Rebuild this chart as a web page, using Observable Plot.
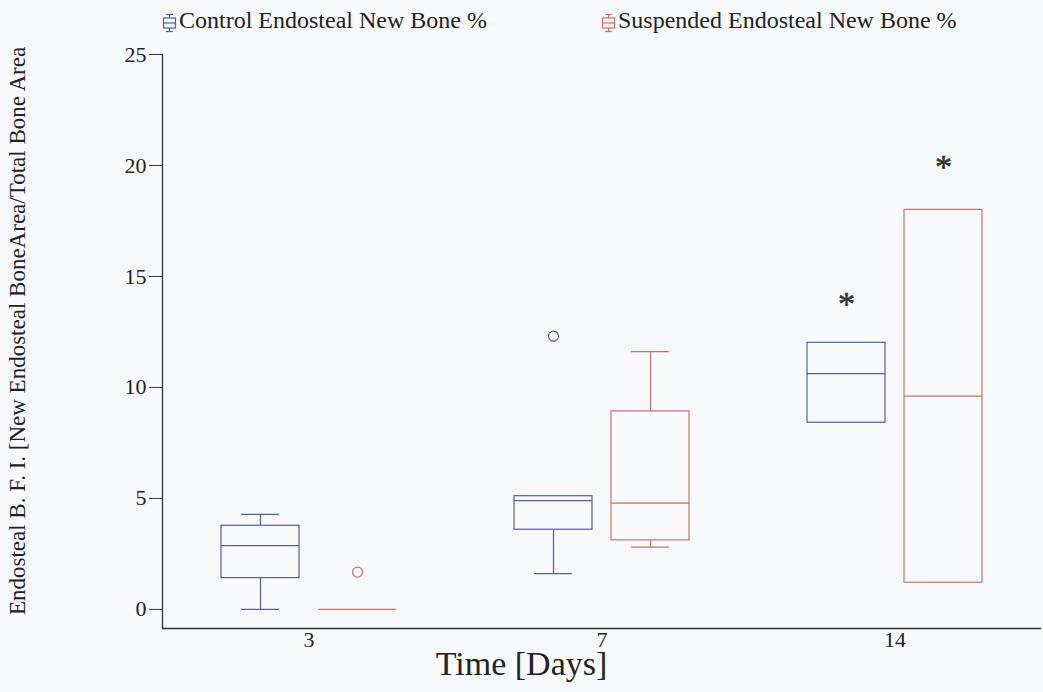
<!DOCTYPE html>
<html>
<head>
<meta charset="utf-8">
<script src="https://cdn.jsdelivr.net/npm/d3@7"></script>
<script src="https://cdn.jsdelivr.net/npm/@observablehq/plot@0.6"></script>
<style>
  body { margin: 0; background: #f8f9fb; font-family: "Liberation Serif", "Times New Roman", serif; }
  #chart { position: relative; width: 1043px; height: 692px; }
  #legend { position: absolute; top: 0; left: 0; width: 1043px; height: 40px; }
  .item { position: absolute; top: 6px; height: 28px; line-height: 28px; font-size: 24px; color: #222; white-space: nowrap; display: flex; align-items: center; }
  .item svg { margin-right: 2px; position: relative; top: 3px; }
  #plot { position: absolute; top: 40px; left: 0; }
  #xtitle { position: absolute; top: 651px; left: 0; width: 1043px; text-align: center; font-size: 34px; line-height: 26px; color: #222; }
  #ytitle { position: absolute; left: 18px; top: 331px; width: 640px; margin-left: -320px; margin-top: -14px; height: 28px; line-height: 28px;
            text-align: center; font-size: 23px; color: #222; white-space: nowrap; transform: rotate(-90deg); }
</style>
</head>
<body>
<div id="chart">
  <div id="legend"></div>
  <div id="plot"></div>
  <div id="ytitle"></div>
  <div id="xtitle"></div>
</div>
<script>
// Sampling days along the x axis
const days = ["3", "7", "14"];
const seriesNames = ["Control Endosteal New Bone %", "Suspended Endosteal New Bone %"];
const seriesColors = ["#4f62a3", "#cf6f68"];

// Box summaries per day: [lower whisker, Q1, median, Q3, upper whisker]
const controlStats = [
  [0.00, 1.41, 2.87, 3.77, 4.28],
  [1.61, 3.59, 4.90, 5.10, 5.10],
  [8.41, 8.41, 10.62, 12.01, 12.01]
];
const suspendedStats = [
  [0.00, 0.00, 0.00, 0.00, 0.00],
  [2.81, 3.11, 4.79, 8.92, 11.61],
  [1.20, 1.20, 9.61, 18.00, 18.00]
];

// Outlying observations per day
const controlOutliers = [[], [12.31], []];
const suspendedOutliers = [[1.68], [], []];

// Significance markers (asterisk heights) per day
const controlStars = [null, null, 13.87];
const suspendedStars = [null, null, 20.08];

const yTicks = [0, 5, 10, 15, 20, 25];
const yMin = -0.86;
const yLabel = "Endosteal B. F. I. [New Endosteal BoneArea/Total Bone Area";
const xLabel = "Time [Days]";

// Flatten into tidy rows for Plot
const statsBySeries = [controlStats, suspendedStats];
const outliersBySeries = [controlOutliers, suspendedOutliers];
const starsBySeries = [controlStars, suspendedStars];

const boxes = [];
const outliers = [];
const stars = [];
seriesNames.forEach((series, s) => {
  days.forEach((day, i) => {
    const [lo, q1, med, q3, hi] = statsBySeries[s][i];
    boxes.push({day, series, lo, q1, med, q3, hi});
    outliersBySeries[s][i].forEach(v => outliers.push({day, series, value: v}));
    if (starsBySeries[s][i] != null) stars.push({day, series, value: starsBySeries[s][i]});
  });
});
const upper = boxes.filter(d => d.hi > d.q3);
const lower = boxes.filter(d => d.lo < d.q1);

const chart = Plot.plot({
  width: 1043,
  height: 612,
  marginTop: 14,
  marginBottom: 24,
  marginLeft: 161,
  marginRight: 2,
  style: {background: "transparent", fontFamily: "Liberation Serif, Times New Roman, serif", color: "#222"},
  fx: {domain: days, padding: 0, axis: null},
  x: {domain: seriesNames, paddingInner: 0.2, paddingOuter: 0.6, axis: null},
  y: {domain: [yMin, 25], axis: null},
  color: {domain: seriesNames, range: seriesColors},
  marks: [
    // axis lines
    Plot.ruleY([yMin], {stroke: "#333", strokeWidth: 1.3}),
    Plot.frame({anchor: "left", facetAnchor: "left", stroke: "#333", strokeWidth: 1.3}),
    Plot.axisY({ticks: yTicks, tickSize: 13, tickPadding: 3, fontSize: 22, stroke: "#333", label: null}),
    Plot.axisFx({anchor: "bottom", tickSize: 0, tickPadding: 3, fontSize: 22, label: null}),
    // whiskers
    Plot.ruleX(upper, {fx: "day", x: "series", y1: "q3", y2: "hi", stroke: "series", strokeWidth: 1.2}),
    Plot.ruleX(lower, {fx: "day", x: "series", y1: "lo", y2: "q1", stroke: "series", strokeWidth: 1.2}),
    Plot.tickY(upper, {fx: "day", x: "series", y: "hi", stroke: "series", strokeWidth: 1.2, insetLeft: 20, insetRight: 20}),
    Plot.tickY(lower, {fx: "day", x: "series", y: "lo", stroke: "series", strokeWidth: 1.2, insetLeft: 20, insetRight: 20}),
    // interquartile boxes and medians
    Plot.barY(boxes, {fx: "day", x: "series", y1: "q1", y2: "q3", fill: "none", stroke: "series", strokeWidth: 1.2}),
    Plot.tickY(boxes, {fx: "day", x: "series", y: "med", stroke: "series", strokeWidth: 1.2}),
    // outliers
    Plot.dot(outliers, {fx: "day", x: "series", y: "value", r: 5, fill: "none", stroke: "series", strokeWidth: 1.2}),
    // significance asterisks
    Plot.text(stars, {fx: "day", x: "series", y: "value", text: () => "*", fontSize: 34, fill: "#333", stroke: "#333", strokeWidth: 0.6, dy: 3})
  ]
});
document.getElementById("plot").appendChild(chart);

// Legend with small box-plot glyphs
const legend = document.getElementById("legend");
const legendLeft = [162, 601];
seriesNames.forEach((name, i) => {
  const c = seriesColors[i];
  const item = document.createElement("div");
  item.className = "item";
  item.style.left = legendLeft[i] + "px";
  item.innerHTML =
    `<svg width="15" height="20" viewBox="0 0 15 20">` +
    `<g fill="none" stroke="${c}" stroke-width="1.2">` +
    `<line x1="4" y1="1.5" x2="11" y2="1.5"/><line x1="7.5" y1="1.5" x2="7.5" y2="5"/>` +
    `<rect x="1.5" y="5" width="12" height="10"/><line x1="1.5" y1="10" x2="13.5" y2="10"/>` +
    `<line x1="7.5" y1="15" x2="7.5" y2="18.5"/><line x1="4" y1="18.5" x2="11" y2="18.5"/>` +
    `</g></svg><span>${name}</span>`;
  legend.appendChild(item);
});
document.getElementById("ytitle").textContent = yLabel;
document.getElementById("xtitle").textContent = xLabel;
</script>
</body>
</html>
